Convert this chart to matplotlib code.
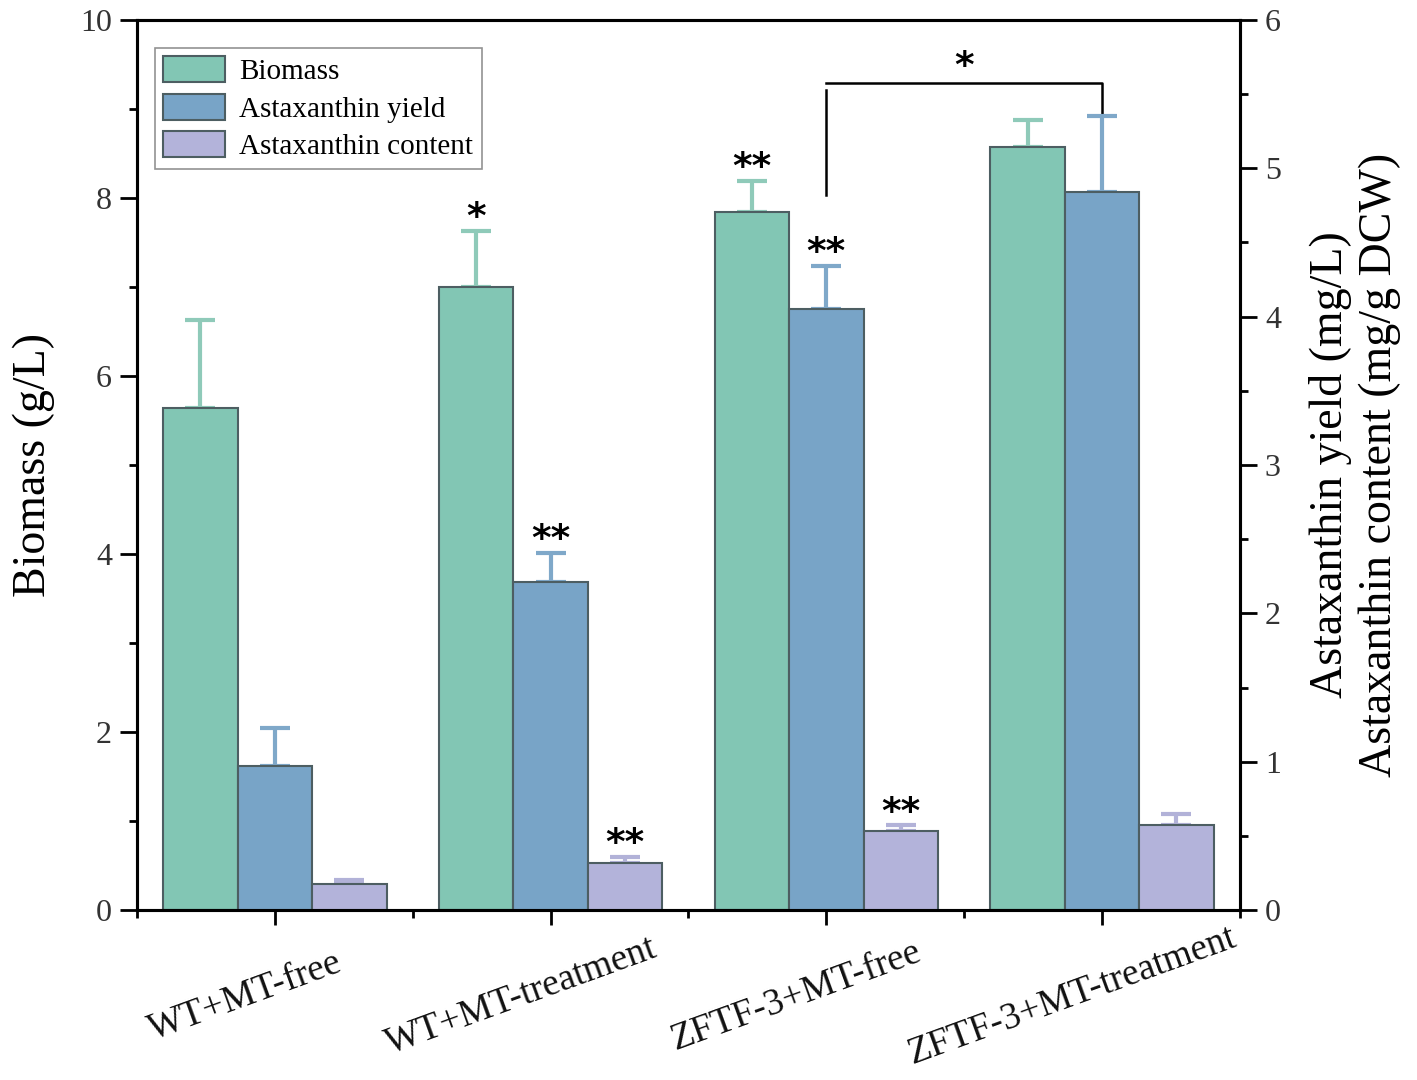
import numpy as np
import matplotlib.pyplot as plt
import matplotlib.transforms as mtransforms
from matplotlib.ticker import MultipleLocator

plt.rcParams['font.family'] = ['Liberation Serif', 'DejaVu Serif']

groups = ['WT+MT-free', 'WT+MT-treatment', 'ZFTF-3+MT-free', 'ZFTF-3+MT-treatment']

# left axis (g/L)
biomass = [5.64, 7.00, 7.84, 8.57]
biomass_err = [0.99, 0.63, 0.35, 0.31]

# right axis (mg/L and mg/g DCW)
yield_ = [0.97, 2.21, 4.05, 4.84]
yield_err = [0.26, 0.20, 0.29, 0.51]
content = [0.175, 0.32, 0.53, 0.57]
content_err = [0.025, 0.04, 0.04, 0.08]

# significance marks above each bar
sig_biomass = ['', '*', '**', '']
sig_yield = ['', '**', '**', '']
sig_content = ['', '**', '**', '']

green = '#82c6b4'
blue = '#78a4c7'
purple = '#b3b3da'
green_err = '#8fcab9'
blue_err = '#7fa8c9'
purple_err = '#b2b2d8'
edge = '#4d5e62'

fig = plt.figure(figsize=(14.17, 10.8), dpi=100)
ax = fig.add_axes([0.0967, 0.1574, 0.7783, 0.8241])
ax2 = ax.twinx()

x = np.arange(len(groups))
w = 0.27

b1 = ax.bar(x - w, biomass, w, color=green, edgecolor=edge, linewidth=1.5, zorder=2,
            label='Biomass')
ax.errorbar(x - w, biomass, yerr=[np.zeros(4), biomass_err], fmt='none', ecolor=green_err,
            elinewidth=3, capsize=11, capthick=3, zorder=1)
b2 = ax2.bar(x, yield_, w, color=blue, edgecolor=edge, linewidth=1.5, zorder=2,
             label='Astaxanthin yield')
ax2.errorbar(x, yield_, yerr=[np.zeros(4), yield_err], fmt='none', ecolor=blue_err,
             elinewidth=3, capsize=11, capthick=3, zorder=1)
b3 = ax2.bar(x + w, content, w, color=purple, edgecolor=edge, linewidth=1.5, zorder=2,
             label='Astaxanthin content')
ax2.errorbar(x + w, content, yerr=[np.zeros(4), content_err], fmt='none', ecolor=purple_err,
             elinewidth=3, capsize=11, capthick=3, zorder=1)

star_font = dict(family='DejaVu Sans', fontsize=27, fontweight='bold', ha='center',
                 va='baseline')
for i in range(4):
    if sig_biomass[i]:
        ax.annotate(sig_biomass[i], (x[i] - w, biomass[i] + biomass_err[i]),
                    xytext=(0, 2), textcoords='offset points', **star_font)
    if sig_yield[i]:
        ax2.annotate(sig_yield[i], (x[i], yield_[i] + yield_err[i]),
                     xytext=(0, 2), textcoords='offset points', **star_font)
    if sig_content[i]:
        ax2.annotate(sig_content[i], (x[i] + w, content[i] + content_err[i]),
                     xytext=(0, 2), textcoords='offset points', **star_font)

# bracket between ZFTF-3 groups
ax.plot([x[2], x[2]], [8.03, 9.21], color='black', lw=1.8, zorder=3)
ax.plot([x[2], x[3], x[3]], [9.29, 9.29, 8.96], color='black', lw=1.8, zorder=3)
ax.text((x[2] + x[3]) / 2, 9.47, '*', family='DejaVu Sans', fontsize=27,
        fontweight='bold', ha='center', va='center')

ax.set_xlim(-0.5, 3.5)
ax.set_ylim(0, 10)
ax2.set_ylim(0, 6)

ax.set_xticks(x)
ax.set_xticklabels([])
ax.xaxis.set_minor_locator(MultipleLocator(1, offset=0.5))
ax.yaxis.set_major_locator(MultipleLocator(2))
ax.yaxis.set_minor_locator(MultipleLocator(1))
ax2.yaxis.set_major_locator(MultipleLocator(1))
ax2.yaxis.set_minor_locator(MultipleLocator(0.5))

for a in (ax, ax2):
    for s in a.spines.values():
        s.set_linewidth(2.2)
    a.tick_params(which='major', length=12, width=2, labelsize=23, labelcolor='#333333',
                  pad=6)
    a.tick_params(which='minor', length=6, width=2)
ax.tick_params(axis='x', which='major', length=11)

offset = mtransforms.ScaledTranslation(-0.30, 0, fig.dpi_scale_trans)
trans = mtransforms.blended_transform_factory(ax.transData, ax.transAxes) + offset
for xi, g in zip(x, groups):
    ax.text(xi, -0.0965, g, transform=trans, rotation=20, rotation_mode='anchor',
            ha='center', va='center', fontsize=27, color='#111111')

ax.set_ylabel('Biomass (g/L)', fontsize=33, labelpad=18)
ax2.set_ylabel('Astaxanthin yield (mg/L)\nAstaxanthin content (mg/g DCW)', fontsize=33,
               labelpad=20, linespacing=1.2)

leg = ax2.legend(handles=[b1, b2, b3], loc='upper left', bbox_to_anchor=(0.016, 0.969),
                 borderaxespad=0, fontsize=21, frameon=True, fancybox=False,
                 edgecolor='#777777', handlelength=2.1, handleheight=1.0,
                 labelspacing=0.28, handletextpad=0.5, borderpad=0.3)
leg.get_frame().set_linewidth(1.2)

fig.savefig('out.png', dpi=100)
